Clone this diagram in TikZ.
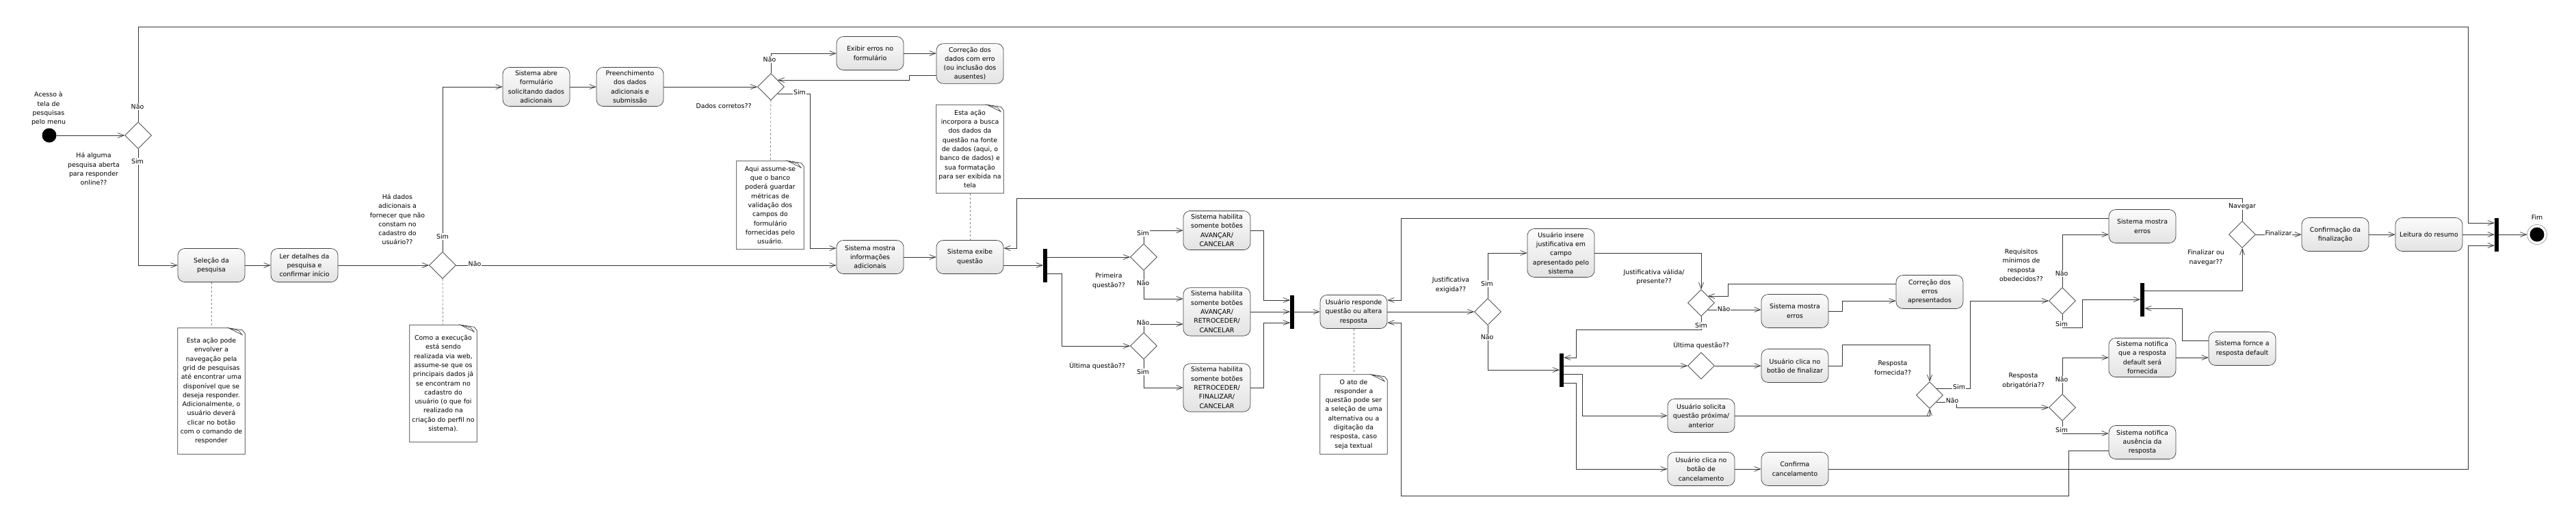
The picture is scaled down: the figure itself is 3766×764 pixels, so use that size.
\documentclass[tikz,border=0pt]{standalone}
\usepackage{fontspec}
\setmainfont{DejaVu Sans}
\usetikzlibrary{shapes.geometric, arrows.meta}

\tikzset{
	txt/.style={font=\fontsize{9.4}{13.3}\selectfont},
	act/.style={txt, draw=black!75, line width=0.7pt, rounded corners=10pt, top color=gray!3, bottom color=gray!22, minimum width=98pt, minimum height=49pt, inner xsep=3pt, inner ysep=5pt, align=center},
	decision/.style={diamond, draw=black!80, line width=0.7pt, fill=white, minimum width=39pt, minimum height=39pt, inner sep=0pt},
	bar/.style={fill=black, minimum width=6pt, minimum height=49pt, inner sep=0pt},
	startdot/.style={circle, fill=black, minimum size=21pt, inner sep=0pt},
	enddot/.style={circle, draw=black!60, fill=white, minimum size=29pt, inner sep=0pt, path picture={\fill[black] (path picture bounding box.center) circle (10.5pt);}},
	note/.style={txt, fill=white, text width=96pt, inner sep=1pt, align=center},
	lbl/.style={txt, align=center, inner sep=1pt},
	guard/.style={txt, fill=white, inner sep=1pt},
	flow/.style={draw=black!80, line width=0.7pt, -{Straight Barb[length=9pt,width=7pt]}},
	link/.style={draw=gray, dashed, line width=0.8pt},
}

\newcommand{\dogear}[1]{%
	\draw[black!80, line width=0.7pt] (#1.south west) -- (#1.north west) -- ([xshift=-24pt]#1.north east) -- ([xshift=-4pt,yshift=-3pt]#1.north east) -- ([yshift=-8pt]#1.north east) -- (#1.south east) -- cycle;
	\draw[black!80, line width=0.6pt, fill=white] ([xshift=-24pt]#1.north east) -- ([xshift=-4pt,yshift=-10pt]#1.north east) -- ([xshift=-9pt,yshift=-4pt]#1.north east) -- cycle;
}

\begin{document}
\begin{tikzpicture}[x=1pt, y=-1pt]
	\useasboundingbox (0,0) rectangle (3766,764);

	\node[startdot] (ini) at (72,198) {};
	\node[lbl] (lacesso) at (71,159) {Acesso à\\tela de\\pesquisas\\pelo menu};
	\node[decision] (dab) at (202,198) {};
	\node[lbl] (lab) at (137,247) {Há alguma\\pesquisa aberta\\para responder\\online??};

	\node[act] (sel) at (309,388) {Seleção da\\pesquisa};
	\node[act] (ler) at (445,388) {Ler detalhes da\\pesquisa e\\confirmar início};
	\node[decision] (ddad) at (647,388) {};
	\node[lbl] (ldad) at (581,321) {Há dados\\adicionais a\\fornecer que não\\constam no\\cadastro do\\usuário??};

	\node[act] (abre) at (784,127) {Sistema abre\\formulário\\solicitando dados\\adicionais};
	\node[act] (preen) at (921,127) {Preenchimento\\dos dados\\adicionais e\\submissão};
	\node[decision] (dcor) at (1127,127) {};
	\node[lbl] (lcor) at (1058,155) {Dados corretos??};
	\node[act] (exerr) at (1272,78) {Exibir erros no\\formulário};
	\node[act] (corr) at (1418,93) {Correção dos\\dados com erro\\(ou inclusão dos\\ausentes)};

	\node[act] (mostra) at (1272,376) {Sistema mostra\\informações\\adicionais};
	\node[act] (exibe) at (1418,376) {Sistema exibe\\questão};
	\node[bar] (fork1) at (1528,388) {};
	\node[decision] (dprim) at (1672,376) {};
	\node[lbl] (lprim) at (1621,411) {Primeira\\questão??};
	\node[decision] (dult) at (1672,506) {};
	\node[lbl] (lult) at (1604,535) {Última questão??};
	\node[act] (habA) at (1779,337) {Sistema habilita\\somente botões\\AVANÇAR/\\CANCELAR};
	\node[act] (habB) at (1779,456) {Sistema habilita\\somente botões\\AVANÇAR/\\RETROCEDER/\\CANCELAR};
	\node[act] (habC) at (1779,567) {Sistema habilita\\somente botões\\RETROCEDER/\\FINALIZAR/\\CANCELAR};
	\node[bar] (fjoin2) at (1889,456) {};

	\node[act] (resp) at (1979,456) {Usuário responde\\questão ou altera\\resposta};
	\node[decision] (djus) at (2175,456) {};
	\node[lbl] (ljus) at (2121,417) {Justificativa\\exigida??};
	\node[act] (insere) at (2282,370) {Usuário insere\\justificativa em\\campo\\apresentado pelo\\sistema};
	\node[decision] (dval) at (2487,443) {};
	\node[lbl] (lval) at (2418,405) {Justificativa válida/\\presente??};
	\node[bar] (fork3) at (2283,541) {};
	\node[decision] (dult2) at (2487,535) {};
	\node[lbl] (lult2) at (2487,505) {Última questão??};
	\node[act] (solic) at (2487,608) {Usuário solicita\\questão próxima/\\anterior};
	\node[act] (clcanc) at (2487,686) {Usuário clica no\\botão de\\cancelamento};
	\node[act] (errB) at (2624,455) {Sistema mostra\\erros};
	\node[act] (corr2) at (2821,427) {Correção dos\\erros\\apresentados};
	\node[act] (finbtn) at (2624,535) {Usuário clica no\\botão de finalizar};
	\node[act] (confc) at (2624,686) {Confirma\\cancelamento};

	\node[decision] (dforn) at (2821,578) {};
	\node[lbl] (lforn) at (2767,538) {Resposta\\fornecida??};
	\node[decision] (dreq) at (3015,440) {};
	\node[lbl] (lreq) at (2955,388) {Requisitos\\mínimos de\\resposta\\obedecidos??};
	\node[decision] (dobr) at (3015,596) {};
	\node[lbl] (lobr) at (2958,557) {Resposta\\obrigatória??};
	\node[act] (errA) at (3132,331) {Sistema mostra\\erros};
	\node[act] (notdef) at (3132,523) {Sistema notifica\\que a resposta\\default será\\fornecida};
	\node[act] (notaus) at (3132,647) {Sistema notifica\\ausência da\\resposta};
	\node[act] (fornce) at (3278,510) {Sistema fornce a\\resposta default};
	\node[bar] (fork4) at (3132,438) {};

	\node[decision] (dfin) at (3278,343) {};
	\node[lbl] (lfin) at (3225,377) {Finalizar ou\\navegar??};
	\node[act] (confin) at (3414,343) {Confirmação da\\finalização};
	\node[act] (leit) at (3551,343) {Leitura do resumo};
	\node[bar] (fjoin) at (3650,343) {};
	\node[enddot] (fim) at (3709,343) {};
	\node[lbl] (lfim) at (3709,318) {Fim};

	\node[note, minimum height=184pt] (n1) at (309,572) {Esta ação pode\\envolver a\\navegação pela\\grid de pesquisas\\até encontrar uma\\disponível que se\\deseja responder.\\Adicionalmente, o\\usuário deverá\\clicar no botão\\com o comando de\\responder};
	\node[note, minimum height=171pt] (n2) at (648,561) {Como a execução\\está sendo\\realizada via web,\\assume-se que os\\principais dados já\\se encontram no\\cadastro do\\usuário (o que foi\\realizado na\\criação do perfil no\\sistema).};
	\node[note, minimum height=129pt] (n3) at (1126,300) {Aqui assume-se\\que o banco\\poderá guardar\\métricas de\\validação dos\\campos do\\formulário\\fornecidas pelo\\usuário.};
	\node[note, minimum height=129pt] (n4) at (1418,218) {Esta ação\\incorpora a busca\\dos dados da\\questão na fonte\\de dados (aqui, o\\banco de dados) e\\sua formatação\\para ser exibida na\\tela};
	\node[note, minimum height=116pt] (n5) at (1979,606) {O ato de\\responder a\\questão pode ser\\a seleção de uma\\alternativa ou a\\digitação da\\resposta, caso\\seja textual};
	\dogear{n1}
	\dogear{n2}
	\dogear{n3}
	\dogear{n4}
	\dogear{n5}

	\draw[link] (sel) -- (n1);
	\draw[link] (ddad) -- (n2);
	\draw[link] (dcor) -- (n3);
	\draw[link] (n4) -- (exibe);
	\draw[link] (resp) -- (n5);

	\draw[flow] (ini) -- (dab);
	\draw[flow] (dab.north) -- (dab.north |- 0,39) -| ([xshift=-38pt,yshift=17pt]fjoin.west) -- ([yshift=17pt]fjoin.west);
	\draw[flow] (dab.south) |- (sel.west);
	\draw[flow] (sel) -- (ler);
	\draw[flow] (ler) -- (ddad);
	\draw[flow] (ddad.north) |- (abre.west);
	\draw[flow] (abre) -- (preen);
	\draw[flow] (preen) -- (dcor);
	\draw[flow] (dcor.north) |- (exerr.west);
	\draw[flow] (exerr.east) -- (exerr.east -| corr.west);
	\draw[flow] ([yshift=-17pt]corr.west) -- ++(-39,0) |- (dcor.north east);
	\draw[flow] (dcor.south east) -- ++(47,0) |- ([yshift=13pt]mostra.west);
	\draw[flow] (ddad.east) -- (ddad.east -| mostra.west);
	\draw[flow] (mostra) -- (exibe);
	\draw[flow] (exibe.east |- fork1) -- (fork1);
	\draw[flow] (fork1.east |- dprim) -- (dprim);
	\draw[flow] ([yshift=-12pt]fork1.east) -- ++(21,0) |- (dult);
	\draw[flow] (dprim) |- (habA);
	\draw[flow] (dprim) |- ([yshift=19pt]habB.west);
	\draw[flow] (dult) |- ([yshift=-18pt]habB.west);
	\draw[flow] (dult) |- (habC);
	\draw[flow] (habA.east) -- ++(19,0) |- ([yshift=17pt]fjoin2.west);
	\draw[flow] (habB) -- (fjoin2);
	\draw[flow] (habC.east) -- ++(19,0) |- ([yshift=-16pt]fjoin2.west);
	\draw[flow] (fjoin2) -- (resp);
	\draw[flow] ([yshift=12pt]errA.west) -| ([xshift=20pt,yshift=17pt]resp.east) -- ([yshift=17pt]resp.east);
	\draw[flow] ([yshift=-12pt]notaus.west) -- ++(-58,0) -- ++(0,66) -| ([xshift=20pt,yshift=-16pt]resp.east) -- ([yshift=-16pt]resp.east);
	\draw[flow] (resp) -- (djus);
	\draw[flow] (djus) |- (insere);
	\draw[flow] (insere) -| (dval);
	\draw[flow] (djus) |- (fork3);
	\draw[flow] (dval.south) -- ++(0,19) -| ([xshift=18pt,yshift=18pt]fork3.east) -- ([yshift=18pt]fork3.east);
	\draw[flow] (dval.south east) -- (dval.south east -| errB.west);
	\draw[flow] (errB.east) -- ++(20,0) |- ([yshift=-13pt]corr2.west);
	\draw[flow] ([yshift=12pt]corr2.west) -- ++(-245,0) |- (dval.north east);
	\draw[flow] (fork3.east |- dult2) -- (dult2);
	\draw[flow] ([yshift=-6pt]fork3.east) -- ++(27,0) |- (solic);
	\draw[flow] ([yshift=-19pt]fork3.east) -- ++(18,0) |- (clcanc);
	\draw[flow] (dult2) -- (finbtn);
	\draw[flow] (finbtn.east) -- ++(20,0) -- ++(0,-31) -| (dforn);
	\draw[flow] (solic) -| (dforn);
	\draw[flow] (dforn.north east) -- ++(49,0) |- (dreq);
	\draw[flow] (dforn.south east) -- ++(29,0) |- (dobr);
	\draw[flow] (dreq) |- ([yshift=-12pt]errA.west);
	\draw[flow] (dreq.south) -- ++(0,19) -- ++(29,0) |- (fork4);
	\draw[flow] (dobr) |- (notdef);
	\draw[flow] (dobr) |- ([yshift=13pt]notaus.west);
	\draw[flow] (notdef.east) -- (notdef.east -| fornce.west);
	\draw[flow] ([yshift=12pt]fornce.west) -- ++(-38,0) |- ([yshift=-13pt]fork4.east);
	\draw[flow] ([yshift=13pt]fork4.east) -| (dfin);
	\draw[flow] (dfin.north) -- ++(0,-33) -| ([xshift=19pt,yshift=13pt]exibe.east) -- ([yshift=13pt]exibe.east);
	\draw[flow] (dfin) -- (confin);
	\draw[flow] (confin) -- (leit);
	\draw[flow] (leit) -- (fjoin);
	\draw[flow] (clcanc) -- (confc);
	\draw[flow] (confc.east) -| ([xshift=-38pt,yshift=-16pt]fjoin.west) -- ([yshift=-16pt]fjoin.west);
	\draw[flow] (fjoin) -- (fim);

	\node[guard] (g1) at (201,156) {Não};
	\node[guard] (g2) at (201,236) {Sim};
	\node[guard] (g3) at (647,346) {Sim};
	\node[guard] (g4) at (694,386) {Não};
	\node[guard] (g5) at (1125,87) {Não};
	\node[guard] (g6) at (1169,135) {Sim};
	\node[guard] (g7) at (1671,341) {Sim};
	\node[guard] (g8) at (1671,414) {Não};
	\node[guard] (g9) at (1671,472) {Não};
	\node[guard] (g10) at (1671,544) {Sim};
	\node[guard] (g11) at (2174,415) {Sim};
	\node[guard] (g12) at (2174,493) {Não};
	\node[guard] (g13) at (2520,452) {Não};
	\node[guard] (g14) at (2487,476) {Sim};
	\node[guard] (g15) at (2864,566) {Sim};
	\node[guard] (g16) at (2854,586) {Não};
	\node[guard] (g17) at (3014,400) {Não};
	\node[guard] (g18) at (3014,474) {Sim};
	\node[guard] (g19) at (3014,555) {Não};
	\node[guard] (g20) at (3014,629) {Sim};
	\node[guard] (g21) at (3278,302) {Navegar};
	\node[guard] (g22) at (3331,341) {Finalizar};
\end{tikzpicture}
\end{document}
